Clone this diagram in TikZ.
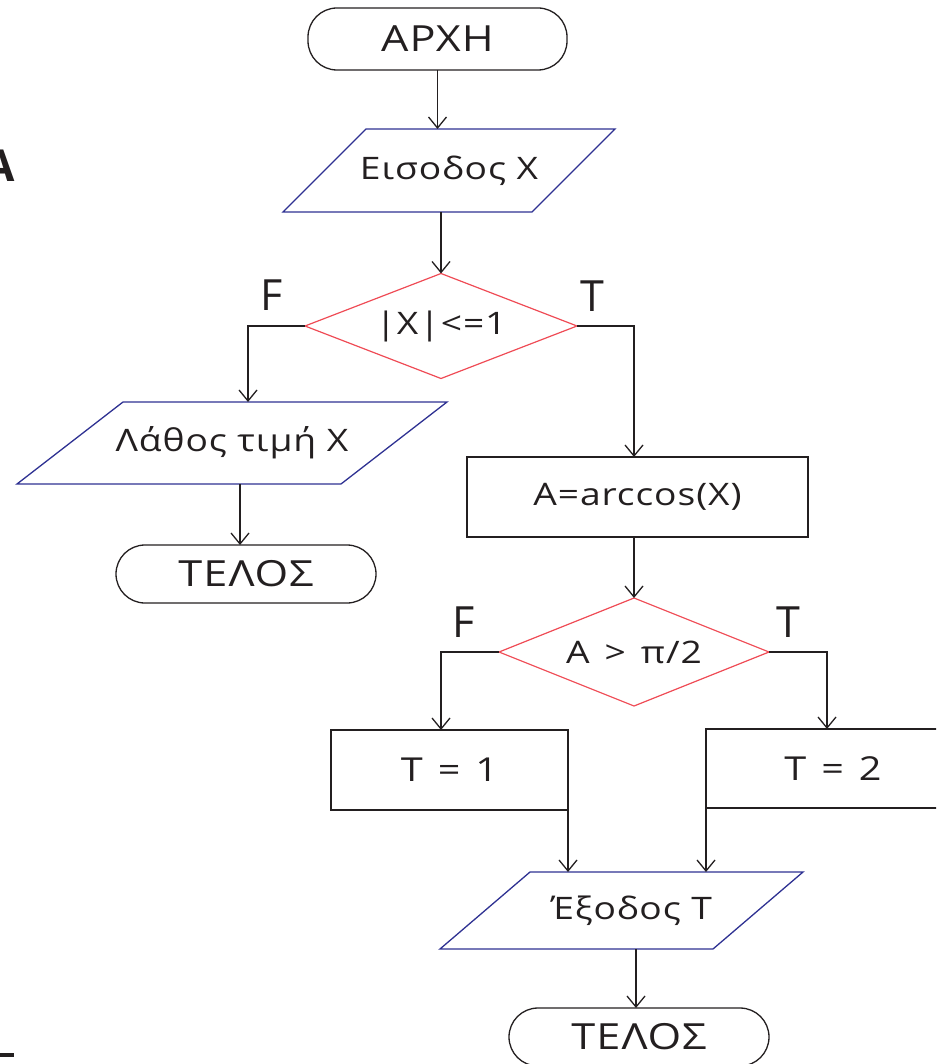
\documentclass[tikz,border=0pt]{standalone}
\usepackage{fontspec}
\setmainfont{Open Sans}[FakeStretch=1.2, LetterSpace=3]
\newfontfamily\labelfont{Open Sans}
\usetikzlibrary{arrows.meta,calc}

\definecolor{ink}{HTML}{231F20}
\definecolor{ionavy}{HTML}{2E3192}
\definecolor{decred}{HTML}{EF4B55}

% wide word space used in the assignments and the second test
\newcommand{\wsp}{\hspace{15pt}}

\tikzset{
  every node/.style={inner sep=0pt, outer sep=0pt, text=ink},
  bodytext/.style={font=\fontsize{31}{36}\selectfont},
  terminal/.style={draw=ink, line width=1.3pt, rounded corners=29pt,
    font=\fontsize{36}{42}\selectfont},
  procbox/.style={draw=ink, line width=1.3pt, bodytext},
  assign/.style={procbox, font=\fontsize{33}{38}\selectfont},
  iobox/.style={bodytext},
  iobord/.style={draw=ionavy, line width=1.3pt},
  decision/.style={bodytext},
  decbord/.style={draw=decred, line width=1.2pt},
  branch/.style={font=\labelfont\fontsize{43}{48}\selectfont},
  arr/.style={draw=ink, line width=1.3pt, -{Straight Barb[length=11pt,width=18pt,line width=1.3pt]}}
}

\begin{document}
\begin{tikzpicture}[x=1pt, y=-1pt]
  \useasboundingbox (0,0) rectangle (936,1064);
  \clip (0,0) rectangle (936,1064);

  % start / input
  \node[terminal, minimum width=259, minimum height=62] (start) at (437.5,39) {ΑΡΧΗ};

  \node[iobox, minimum width=332, minimum height=83] (in) at (449,170.5) {Εισοδος Χ};
  \draw[iobord] ($(in.north west)+(83,0)$) -- (in.north east)
     -- ($(in.south east)-(83,0)$) -- (in.south west) -- cycle;

  % first test
  \node[decision, minimum width=272, minimum height=105] (d1) at (441,326) {|Χ|<=1};
  \draw[decbord] (d1.north) -- (d1.east) -- (d1.south) -- (d1.west) -- cycle;
  \node[branch] (f1) at (272,295) {F};
  \node[branch] (t1lab) at (592,296) {T};

  % error branch
  \node[iobox, minimum width=430, minimum height=82] (err) at (232,443) {Λάθος τιμή Χ};
  \draw[iobord] ($(err.north west)+(106,0)$) -- (err.north east)
     -- ($(err.south east)-(106,0)$) -- (err.south west) -- cycle;
  \node[terminal, minimum width=260, minimum height=58] (end1) at (246,574) {ΤΕΛΟΣ};

  % valid branch
  \node[procbox, minimum width=341, minimum height=80] (calc) at (637.5,497) {A=arccos(X)};
  \node[decision, minimum width=270, minimum height=108] (d2) at (634,652) {A\wsp>\wsp π/2};
  \draw[decbord] (d2.north) -- (d2.east) -- (d2.south) -- (d2.west) -- cycle;
  \node[branch] (f2) at (464,622) {F};
  \node[branch] (t2lab) at (788,622) {T};

  \node[assign, minimum width=237, minimum height=80] (t1) at (449.5,770) {T\wsp=\wsp1};
  \node[assign, minimum width=242, minimum height=79] (t2) at (827,768.5) {\hspace*{12pt}T\wsp=\wsp2};

  % output / end
  \node[iobox, minimum width=363, minimum height=77] (out) at (621.5,910.5) {\hspace*{20pt}Έξοδος Τ};
  \draw[iobord] ($(out.north west)+(90,0)$) -- (out.north east)
     -- ($(out.south east)-(90,0)$) -- (out.south west) -- cycle;
  \node[terminal, minimum width=260, minimum height=58] (end2) at (639,1037) {ΤΕΛΟΣ};

  % connector end points
  \coordinate (errin) at ($(err.north)+(16,0)$);
  \coordinate (e1in) at ($(end1.north)+(-6,0)$);
  \coordinate (calcin) at ($(calc.north)+(-3.5,0)$);
  \coordinate (t1in) at ($(t1.north)+(-8.5,0)$);
  \coordinate (e2in) at ($(end2.north)+(-3,0)$);

  % connectors
  \draw[arr] (start.south) -- (start.south |- in.north);
  \draw[arr] (d1.north |- in.south) -- (d1.north);
  \draw[arr] (d1.west) -| (errin);
  \draw[arr] (e1in |- err.south) -- (e1in);
  \draw[arr] (d1.east) -| (calcin);
  \draw[arr] (d2.north |- calc.south) -- (d2.north);
  \draw[arr] (d2.west) -| (t1in);
  \draw[arr] (d2.east) -| (t2.north);
  \draw[arr] (t1.south east) -- (t1.south east |- out.north);
  \draw[arr] (t2.south west) -- (t2.south west |- out.north);
  \draw[arr] (e2in |- out.south) -- (e2in);

  % edge fragments
  \node[anchor=base east, font=\labelfont\fontsize{44}{48}\selectfont\bfseries] (edgeA) at (15,182) {A};
  \fill[ink] (0,1053) rectangle (14,1057);
\end{tikzpicture}
\end{document}
